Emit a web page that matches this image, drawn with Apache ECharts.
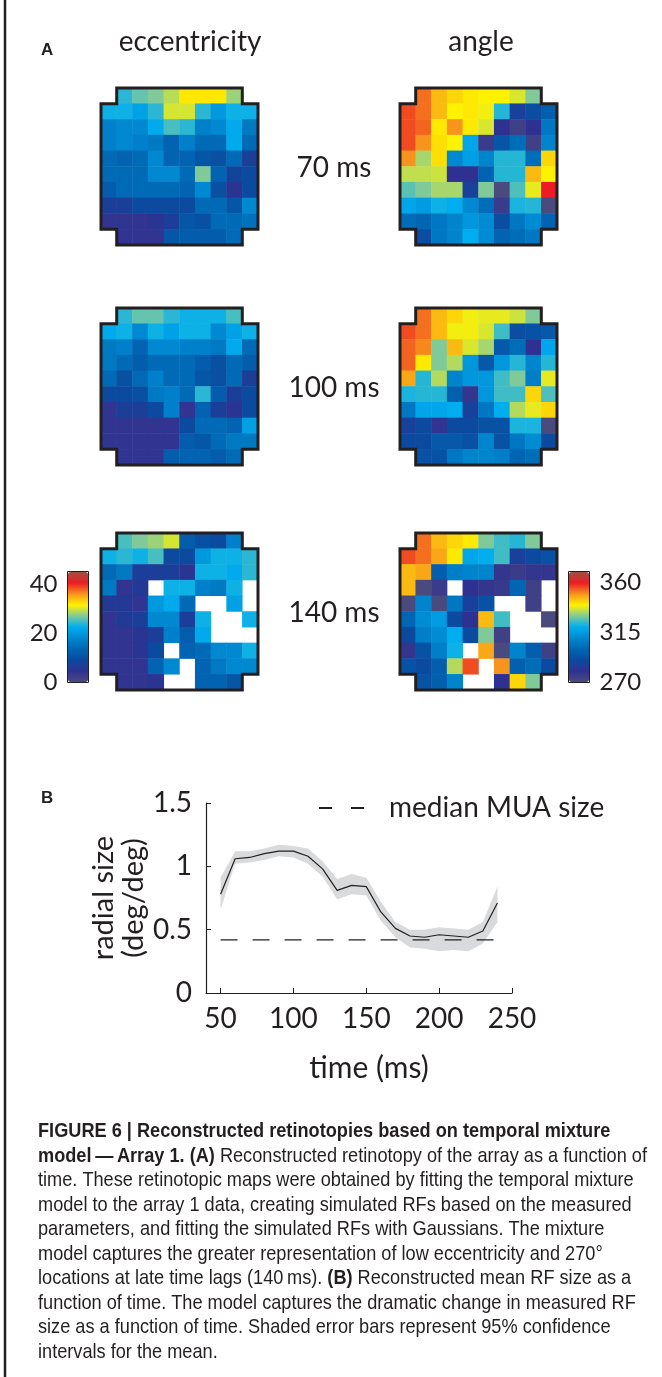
<!DOCTYPE html>
<html lang="en">
<head>
<meta charset="UTF-8">
<title>Figure 6</title>
<style>
  * { margin: 0; padding: 0; }
  body { background: #fff; }
  #main { width: 662px; height: 1377px; }
</style>
</head>
<body>
<div id="main"></div>
<script src="https://cdn.jsdelivr.net/npm/echarts@6/dist/echarts.min.js"></script>
<script>
// ---------- data ----------
// retinotopic maps, 10x10 electrodes, row 0 = top; null = corner / no value (white)
var ecc70 = [
  [null, 24, 26, 27, 29, 32, 32, 32, 28, null],
  [23, 23, 21, 24, 30, 30, 24, 20, 23, 23],
  [17, 18, 18, 22, 25, 24, 17, 18, 22, 16],
  [17, 18, 17, 16, 13, 17, 14, 14, 22, 14],
  [14, 13, 14, 18, 13, 13, 11, 10, 14, 7],
  [14, 14, 14, 18, 18, 14, 27, 13, 8, 9],
  [12, 14, 14, 14, 14, 13, 18, 10, 5, 9],
  [7, 7, 9, 9, 9, 9, 14, 14, 11, 18],
  [4, 4, 4, 5, 7, 11, 10, 14, 14, 15],
  [null, 4, 4, 4, 11, 12, 12, 12, 14, null]
];
var ang70 = [
  [null, 353, 346, 343, 341, 340, 340, 337, 330, null],
  [356, 353, 346, 340, 341, 339, 323, 286, 291, 297],
  [356, 354, 341, 350, 341, 337, 280, 274, 280, 305],
  [356, 350, 342, 340, 318, 276, 294, 302, 274, 309],
  [350, 333, 342, 310, 316, 309, 323, 323, 302, 343],
  [335, 335, 336, 280, 280, 299, 323, 323, 346, 340],
  [327, 330, 333, 333, 286, 330, 270, 326, 338, 360],
  [318, 315, 321, 320, 310, 302, 276, 322, 323, 270],
  [302, 300, 305, 309, 314, 311, 291, 305, 311, 299],
  [null, 291, 305, 309, 320, 311, 299, 302, 305, null]
];
var ecc100 = [
  [null, 24, 26, 26, 24, 23, 23, 23, 25, null],
  [22, 23, 18, 23, 21, 23, 23, 18, 21, 23],
  [16, 17, 13, 18, 18, 17, 17, 16, 22, 14],
  [16, 14, 12, 14, 14, 14, 12, 10, 14, 12],
  [14, 10, 14, 17, 14, 14, 11, 10, 14, 7],
  [9, 9, 10, 16, 17, 14, 24, 12, 7, 9],
  [4, 7, 7, 9, 17, 4, 13, 7, 5, 9],
  [4, 4, 4, 4, 4, 9, 14, 14, 13, 21],
  [4, 4, 4, 4, 4, 12, 11, 14, 16, 16],
  [null, 4, 4, 4, 12, 13, 13, 12, 14, null]
];
var ang100 = [
  [null, 353, 346, 343, 339, 338, 338, 336, 330, null],
  [356, 353, 346, 339, 339, 337, 325, 291, 293, 295],
  [354, 351, 330, 346, 337, 333, 295, 302, 280, 318],
  [354, 341, 330, 334, 314, 295, 314, 323, 309, 323],
  [348, 323, 334, 309, 314, 314, 325, 330, 307, 338],
  [322, 323, 323, 298, 278, 314, 325, 325, 343, 326],
  [305, 318, 318, 320, 286, 305, 320, 334, 338, 343],
  [286, 290, 279, 290, 290, 293, 293, 322, 322, 270],
  [290, 290, 295, 295, 293, 309, 293, 305, 311, 290],
  [null, 293, 293, 305, 309, 309, 307, 300, 302, null]
];
var ecc140 = [
  [null, 25, 27, 28, 30, 12, 10, 9, 17, null],
  [23, 24, 23, 25, 9, 9, 20, 23, 23, 24],
  [14, 16, 7, 7, 7, 5, 23, 23, 22, 24],
  [16, 4, 6, null, 23, 23, 17, 16, 23, null],
  [6, 6, 4, 20, 22, 14, null, null, 21, null],
  [4, 6, 7, 18, 18, 7, 23, null, null, 23],
  [4, 4, 5, 7, 17, 12, 22, null, null, null],
  [4, 4, 5, 9, null, 13, 14, 18, 18, 23],
  [4, 4, 4, 13, 18, null, 13, 16, 18, 18],
  [null, 4, 4, 5, null, null, 13, 13, 11, null]
];
var ang140 = [
  [null, 353, 346, 343, 341, 330, 325, 323, 330, null],
  [356, 353, 348, 341, 318, 320, 325, 286, 290, 293],
  [346, 348, 297, 307, 309, 309, 278, 276, 278, 278],
  [346, 270, 276, null, 280, 278, 277, 300, 274, null],
  [270, 309, 270, 305, 286, 293, null, null, 274, null],
  [300, 311, 315, 290, 280, 346, 325, null, null, 270],
  [290, 307, 311, 320, 290, 330, 274, null, null, null],
  [278, 293, 307, 321, null, 348, 270, 309, 297, 274],
  [293, 290, 297, 334, 356, null, 350, 298, 302, 290],
  [null, 293, 297, 309, null, null, 280, 343, 330, null]
];
var lagLabels = ['70 ms', '100 ms', '140 ms'];
var eccRange = [0, 45];
var angRange = [270, 370];
var eccTicks = [0, 20, 40];
var angTicks = [270, 315, 360];

// panel B
var times = [50, 60, 70, 80, 90, 100, 110, 120, 130, 140, 150, 160, 170, 180, 190, 200, 210, 220, 230, 240];
var meanSize = [0.78, 1.06, 1.07, 1.10, 1.12, 1.12, 1.08, 0.98, 0.81, 0.85, 0.84, 0.64, 0.51, 0.45, 0.44, 0.46, 0.45, 0.44, 0.49, 0.71];
var ciLow = [0.66, 1.02, 1.03, 1.05, 1.08, 1.07, 1.02, 0.92, 0.74, 0.78, 0.77, 0.57, 0.44, 0.36, 0.35, 0.33, 0.34, 0.33, 0.39, 0.56];
var ciHigh = [0.91, 1.12, 1.12, 1.14, 1.17, 1.16, 1.14, 1.04, 0.90, 0.94, 0.91, 0.72, 0.56, 0.50, 0.50, 0.52, 0.51, 0.50, 0.56, 0.84];
var medianMUA = 0.42;
var timeTicks = [50, 100, 150, 200, 250];

// ---------- styling ----------
var ink = '#231f20';
var font = 'Lato, "Open Sans", sans-serif';
var capFont = '"Liberation Sans", sans-serif';
var cmap = ['#4b4a7e', '#2e3192', '#0b4a9f', '#0066b3', '#0088d0', '#00aeef',
            '#80ca9a', '#fff200', '#f7941d', '#ed1c24', '#9e5040'];
// electrode array outline, in cell units (corners cut)
var outline = [[1, 0], [9, 0], [9, 1], [10, 1], [10, 9], [9, 9], [9, 10], [1, 10], [1, 9], [0, 9], [0, 1], [1, 1]];

var maps = [ecc70, ang70, ecc100, ang100, ecc140, ang140];
var mapLeft = [101, 400];
var mapTop = [88, 308, 533];
var cells = ['0', '1', '2', '3', '4', '5', '6', '7', '8', '9'];

var grids = [], xAxes = [], yAxes = [], series = [], frames = [];

function toCells(m) {
  var out = [];
  m.forEach(function (row, r) {
    row.forEach(function (v, c) {
      if (v != null) out.push([c, r, v]);
    });
  });
  return out;
}

maps.forEach(function (m, i) {
  grids.push({ left: mapLeft[i % 2], top: mapTop[Math.floor(i / 2)], width: 157, height: 157 });
  xAxes.push({ gridIndex: i, type: 'category', data: cells, show: false });
  yAxes.push({ gridIndex: i, type: 'category', data: cells, inverse: true, show: false });
  series.push({
    type: 'heatmap', xAxisIndex: i, yAxisIndex: i,
    data: toCells(m),
    itemStyle: { borderWidth: 0 },
    emphasis: { disabled: true }
  });
  frames.push({
    type: 'custom', xAxisIndex: i, yAxisIndex: i,
    data: [[0, 0]], silent: true, z: 5,
    renderItem: function (params, api) {
      var p = api.coord([0, 0]);
      var s = api.size([1, 1]);
      var x0 = p[0] - s[0] / 2, y0 = p[1] - s[1] / 2;
      return {
        type: 'polygon',
        shape: { points: outline.map(function (q) { return [x0 + q[0] * s[0], y0 + q[1] * s[1]]; }) },
        style: { fill: null, stroke: ink, lineWidth: 3, lineJoin: 'miter' }
      };
    }
  });
});
series = series.concat(frames);

// colour bar axes (grid 6 = eccentricity, grid 7 = angle)
grids.push({ left: 67.5, top: 571.5, width: 21, height: 111, show: true, borderColor: ink, borderWidth: 1, backgroundColor: 'transparent' });
grids.push({ left: 568.5, top: 571.5, width: 21, height: 111, show: true, borderColor: ink, borderWidth: 1, backgroundColor: 'transparent' });
[6, 7].forEach(function (g) {
  var isEcc = g === 6;
  xAxes.push({ gridIndex: g, type: 'value', show: false });
  yAxes.push({
    gridIndex: g, type: 'value', position: isEcc ? 'left' : 'right',
    min: isEcc ? eccRange[0] : angRange[0], max: isEcc ? eccRange[1] : angRange[1],
    axisLine: { show: false }, axisTick: { show: false }, splitLine: { show: false },
    axisLabel: { customValues: isEcc ? eccTicks : angTicks, fontSize: 24, color: ink, margin: 10, fontFamily: font }
  });
});

// panel B (grid 8)
grids.push({ left: 206, top: 803, width: 306, height: 190 });
xAxes.push({
  gridIndex: 8, type: 'value', min: 40, max: 250,
  axisLine: { show: true, onZero: false, lineStyle: { color: ink, width: 1.2 } },
  axisTick: { show: true, inside: true, length: 5, customValues: timeTicks, lineStyle: { color: ink } },
  axisLabel: { customValues: timeTicks, fontSize: 28, color: ink, margin: 12, fontFamily: font },
  splitLine: { show: false },
  name: 'time (ms)', nameLocation: 'middle', nameGap: 60,
  nameTextStyle: { fontSize: 30, color: ink, fontFamily: font, padding: [0, 0, 0, 20] }
});
yAxes.push({
  gridIndex: 8, type: 'value', min: 0, max: 1.5, interval: 0.5,
  axisLine: { show: true, lineStyle: { color: ink, width: 1.2 } },
  axisTick: { show: true, inside: true, length: 5, lineStyle: { color: ink } },
  axisLabel: { fontSize: 28, color: ink, margin: 14, fontFamily: font },
  splitLine: { show: false },
  name: 'radial size\n(deg/deg)', nameLocation: 'middle', nameRotate: 90, nameGap: 54,
  nameTextStyle: { fontSize: 29, lineHeight: 30, color: ink, fontFamily: font }
});

function pairs(xs, ys) { return xs.map(function (x, k) { return [x, ys[k]]; }); }

// 95% confidence band as one polygon
series.push({
  type: 'custom', xAxisIndex: 8, yAxisIndex: 8, silent: true, z: 1,
  data: times.map(function (t, k) { return [t, ciLow[k], ciHigh[k]]; }),
  encode: { x: 0, y: [1, 2] },
  renderItem: function (params, api) {
    if (params.dataIndexInside !== 0) return;
    var up = [], lo = [];
    for (var k = 0; k < params.dataInsideLength; k++) {
      up.push(api.coord([api.value(0, k), api.value(2, k)]));
      lo.unshift(api.coord([api.value(0, k), api.value(1, k)]));
    }
    return { type: 'polygon', shape: { points: up.concat(lo) }, style: { fill: '#d9dadb' } };
  }
});
series.push({
  type: 'line', name: 'median MUA size', xAxisIndex: 8, yAxisIndex: 8, symbol: 'none', silent: true,
  data: [[times[0], medianMUA], [times[times.length - 1], medianMUA]],
  lineStyle: { color: ink, width: 1.2, type: [17, 15] }, itemStyle: { color: ink }
});
series.push({
  type: 'line', xAxisIndex: 8, yAxisIndex: 8, symbol: 'none', silent: true,
  data: pairs(times, meanSize), lineStyle: { color: ink, width: 1.2 }
});

// ---------- texts ----------
var graphics = [
  { type: 'line', shape: { x1: 5, y1: 0, x2: 5, y2: 1377 }, style: { stroke: ink, lineWidth: 2.5 } },
  { type: 'text', x: 41, y: 50, style: { text: 'A', font: 'bold 17px "Liberation Sans", sans-serif', fill: ink, verticalAlign: 'middle' } },
  { type: 'text', x: 41, y: 798, style: { text: 'B', font: 'bold 17px "Liberation Sans", sans-serif', fill: ink, verticalAlign: 'middle' } },
  { type: 'text', x: 190, y: 42, style: { text: 'eccentricity', font: '28px ' + font, fill: ink, align: 'center', verticalAlign: 'middle' } },
  { type: 'text', x: 481, y: 42, style: { text: 'angle', font: '28px ' + font, fill: ink, align: 'center', verticalAlign: 'middle' } }
];
lagLabels.forEach(function (t, k) {
  graphics.push({ type: 'text', x: 334, y: mapTop[k] + 80, style: { text: t, font: '28px ' + font, fill: ink, align: 'center', verticalAlign: 'middle' } });
});
var caption = [
  '{b|FIGURE 6 | Reconstructed retinotopies based on temporal mixture}',
  '{b|model\u2009\u2014\u2009Array 1. (A)} Reconstructed retinotopy of the array as a function of',
  'time. These retinotopic maps were obtained by fitting the temporal mixture',
  'model to the array 1 data, creating simulated RFs based on the measured',
  'parameters, and fitting the simulated RFs with Gaussians. The mixture',
  'model captures the greater representation of low eccentricity and 270\u00b0',
  'locations at late time lags (140\u2009ms). {b|(B)} Reconstructed mean RF size as a',
  'function of time. The model captures the dramatic change in measured RF',
  'size as a function of time. Shaded error bars represent 95% confidence',
  'intervals for the mean.'
].join('\n');
graphics.push({
  type: 'text', x: 38, y: 1119, scaleX: 0.865,
  style: {
    text: caption, fill: ink, fontFamily: capFont, fontSize: 21, lineHeight: 24.5,
    rich: { b: { fontFamily: capFont, fontSize: 21, fontWeight: 'bold', lineHeight: 24.5, fill: ink } }
  }
});

var chart = echarts.init(document.getElementById('main'));
chart.setOption({
  animation: false,
  backgroundColor: '#fff',
  textStyle: { fontFamily: font, color: ink },
  grid: grids,
  xAxis: xAxes,
  yAxis: yAxes,
  visualMap: [
    { type: 'continuous', seriesIndex: [0, 2, 4], min: eccRange[0], max: eccRange[1], calculable: false,
      inRange: { color: cmap }, left: 68, top: 572, itemWidth: 20, itemHeight: 110, padding: 0 },
    { type: 'continuous', seriesIndex: [1, 3, 5], min: angRange[0], max: angRange[1], calculable: false,
      inRange: { color: cmap }, left: 569, top: 572, itemWidth: 20, itemHeight: 110, padding: 0 }
  ],
  legend: {
    data: [{
      name: 'median MUA size',
      icon: 'path://M0,0H13V2H0Z M32,0H45V2H32Z',
      itemStyle: { color: ink, borderWidth: 0 }
    }],
    left: 314, top: 789, itemWidth: 45, itemHeight: 2, selectedMode: false,
    textStyle: { fontSize: 28, color: ink, fontFamily: font, padding: [0, 0, 0, 20] }
  },
  series: series,
  graphic: graphics
});
</script>
</body>
</html>
